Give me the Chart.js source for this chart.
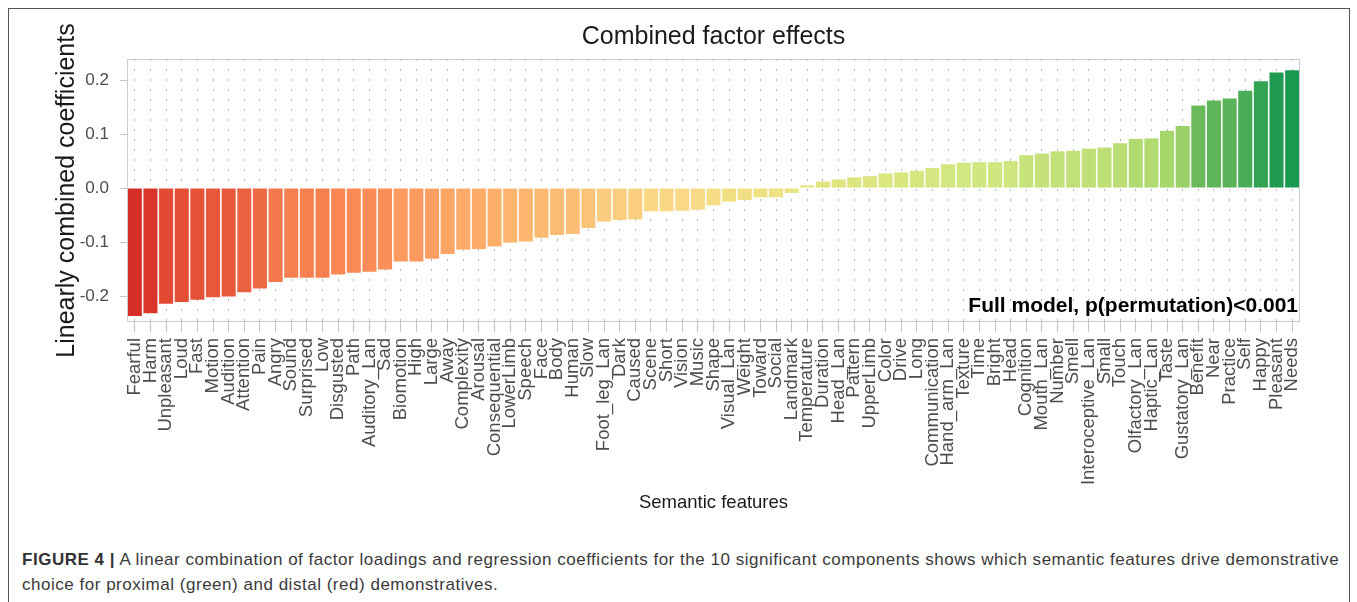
<!DOCTYPE html>
<html>
<head>
<meta charset="utf-8">
<script src="https://cdn.jsdelivr.net/npm/chart.js@4.4.0/dist/chart.umd.min.js"></script>
<style>
  body { margin: 0; background: #fff; font-family: "Liberation Sans", Arial, sans-serif; }
  #frame { position: absolute; left: 8px; top: 8px; width: 1340px; height: 640px; border: 1px solid #555; }
  #wrap { position: absolute; left: 0; top: 0; width: 1357px; height: 520px; }
  #caption { position: absolute; left: 22px; top: 547px; font-size: 17px; letter-spacing: 0.52px; line-height: 25px; color: #3a3a3a; white-space: nowrap; }
  #caption b { color: #333; }
</style>
</head>
<body>
<div id="frame"></div>
<div id="wrap"><canvas id="factorChart"></canvas></div>
<div id="caption"><b>FIGURE 4 |</b> A linear combination of factor loadings and regression coefficients for the 10 significant components shows which semantic features drive demonstrative<br>choice for proximal (green) and distal (red) demonstratives.</div>

<script>
const features = [
  'Fearful', 'Harm', 'Unpleasant', 'Loud', 'Fast', 'Motion', 'Audition', 'Attention', 'Pain', 'Angry',
  'Sound', 'Surprised', 'Low', 'Disgusted', 'Path', 'Auditory_Lan', 'Sad', 'Biomotion', 'High', 'Large',
  'Away', 'Complexity', 'Arousal', 'Consequential', 'LowerLimb', 'Speech', 'Face', 'Body', 'Human', 'Slow',
  'Foot_leg_Lan', 'Dark', 'Caused', 'Scene', 'Short', 'Vision', 'Music', 'Shape', 'Visual_Lan', 'Weight',
  'Toward', 'Social', 'Landmark', 'Temperature', 'Duration', 'Head_Lan', 'Pattern', 'UpperLimb', 'Color', 'Drive',
  'Long', 'Communication', 'Hand_arm_Lan', 'Texture', 'Time', 'Bright', 'Head', 'Cognition', 'Mouth_Lan', 'Number',
  'Smell', 'Interoceptive_Lan', 'Small', 'Touch', 'Olfactory_Lan', 'Haptic_Lan', 'Taste', 'Gustatory_Lan', 'Benefit', 'Near',
  'Practice', 'Self', 'Happy', 'Pleasant', 'Needs'
];

const coefficients = [
  -0.237, -0.232, -0.214, -0.211, -0.207, -0.202, -0.201, -0.193, -0.186, -0.174,
  -0.166, -0.166, -0.166, -0.160, -0.157, -0.155, -0.151, -0.136, -0.136, -0.131,
  -0.122, -0.114, -0.113, -0.108, -0.101, -0.099, -0.092, -0.087, -0.085, -0.074,
  -0.062, -0.059, -0.058, -0.043, -0.043, -0.042, -0.040, -0.032, -0.025, -0.022,
  -0.017, -0.017, -0.009, 0.005, 0.012, 0.016, 0.020, 0.022, 0.027, 0.029,
  0.032, 0.037, 0.044, 0.047, 0.048, 0.048, 0.050, 0.061, 0.064, 0.068,
  0.069, 0.073, 0.075, 0.083, 0.091, 0.092, 0.106, 0.115, 0.153, 0.162,
  0.166, 0.180, 0.198, 0.214, 0.218
];

const yTickValues = [-0.2, -0.1, 0.0, 0.1, 0.2];

// red -> yellow -> green fill, picked by value
const colorStops = [
  [0.00, '#d62f27'], [0.05, '#e34a33'], [0.10, '#eb6442'], [0.175, '#fb8a56'],
  [0.30, '#fdb56d'], [0.43, '#f9d986'], [0.50, '#eae381'], [0.62, '#d2e780'],
  [0.75, '#a8d86c'], [0.86, '#68b95a'], [1.00, '#1a9850']
];

function hexToRgb(h) {
  return [1, 3, 5].map((i) => parseInt(h.slice(i, i + 2), 16));
}

function barColor(v) {
  const lo = Math.min(...coefficients);
  const hi = Math.max(...coefficients);
  const t = (v - lo) / (hi - lo);
  for (let i = 1; i < colorStops.length; i++) {
    if (t <= colorStops[i][0]) {
      const [t0, c0] = colorStops[i - 1];
      const [t1, c1] = colorStops[i];
      const f = (t - t0) / (t1 - t0);
      const a = hexToRgb(c0), b = hexToRgb(c1);
      const rgb = a.map((x, k) => Math.round(x + (b[k] - x) * f));
      return `rgb(${rgb.join(',')})`;
    }
  }
  return colorStops[colorStops.length - 1][1];
}

// panel border, main title and the model note
const decorations = {
  id: 'decorations',
  afterDatasetsDraw(chart) {
    const { ctx, chartArea: a } = chart;
    ctx.save();
    ctx.strokeStyle = '#cccccc';
    ctx.lineWidth = 1;
    ctx.strokeRect(a.left + 0.5, a.top + 0.5, a.right - a.left - 1, a.bottom - a.top - 1);

    ctx.fillStyle = '#1a1a1a';
    ctx.font = '25px "Liberation Sans", Arial, sans-serif';
    ctx.textAlign = 'center';
    ctx.textBaseline = 'middle';
    ctx.fillText('Combined factor effects', (a.left + a.right) / 2, 37);

    ctx.fillStyle = '#000';
    ctx.font = 'bold 21px "Liberation Sans", Arial, sans-serif';
    ctx.textAlign = 'right';
    ctx.textBaseline = 'alphabetic';
    ctx.fillText('Full model, p(permutation)<0.001', a.right - 2, a.bottom - 10);
    ctx.restore();
  },
};

const ctx = document.getElementById('factorChart').getContext('2d');
const chart = new Chart(ctx, {
  type: 'bar',
  data: {
    labels: features,
    datasets: [
      {
        data: coefficients,
        backgroundColor: coefficients.map(barColor),
        borderWidth: 0,
        barPercentage: 0.9,
        categoryPercentage: 1.0,
      },
    ],
  },
  options: {
    responsive: true,
    maintainAspectRatio: false,
    animation: false,
    layout: { padding: { top: 59, left: 48, right: 57, bottom: 2 } },
    plugins: {
      legend: { display: false },
      tooltip: { enabled: false },
    },
    scales: {
      x: {
        afterFit: (scale) => { scale.height = 196; },
        grid: {
          offset: false,
          color: '#b5b5b5',
          lineWidth: 1,
          drawTicks: true,
          tickLength: 10,
          tickColor: '#c4c4c4',
          tickBorderDash: [],
        },
        border: { display: false, dash: [2, 8] },
        ticks: {
          autoSkip: false,
          maxRotation: 90,
          minRotation: 90,
          padding: 6,
          color: '#4d4d4d',
          font: { size: 18.5, family: '"Liberation Sans", Arial, sans-serif' },
        },
        title: {
          display: true,
          text: 'Semantic features',
          color: '#1a1a1a',
          font: { size: 18.5, family: '"Liberation Sans", Arial, sans-serif' },
        },
      },
      y: {
        min: -0.248,
        max: 0.239,
        afterFit: (scale) => { scale.width = 79; },
        afterBuildTicks: (scale) => { scale.ticks = yTickValues.map((v) => ({ value: v })); },
        grid: {
          drawOnChartArea: false,
          drawTicks: true,
          tickLength: 7,
          tickColor: '#c4c4c4',
        },
        border: { display: false },
        ticks: {
          padding: 11,
          color: '#4d4d4d',
          font: { size: 17, family: '"Liberation Sans", Arial, sans-serif' },
          callback: (v) => Number(v).toFixed(1),
        },
        title: {
          display: true,
          text: 'Linearly combined coefficients',
          color: '#1a1a1a',
          font: { size: 25, family: '"Liberation Sans", Arial, sans-serif' },
        },
      },
    },
  },
  plugins: [decorations],
});
</script>
</body>
</html>
